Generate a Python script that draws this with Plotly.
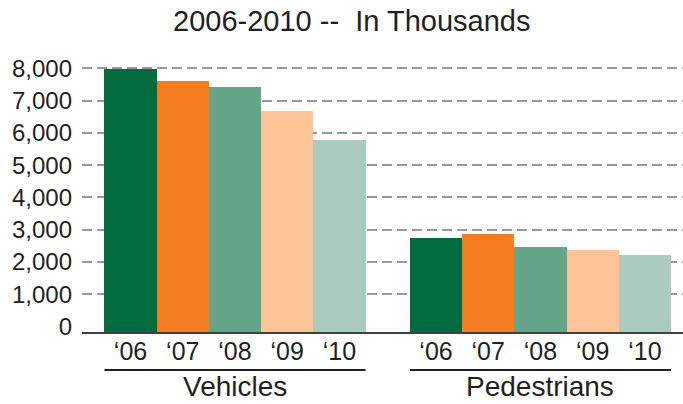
import plotly.graph_objects as go

years = ["\u201806", "\u201807", "\u201808", "\u201809", "\u201810"]
vehicles = [7980, 7610, 7420, 6680, 5790]
pedestrians = [2740, 2870, 2470, 2370, 2220]
groups = ["Vehicles", "Pedestrians"]
colors = ["#006B3F", "#F47B20", "#64A58A", "#FDC498", "#ABCBBF"]

AXIS_FLOOR = -167
GROUP_OFFSET = 5.85
TEXT = "#231F20"

veh_x = [i for i in range(len(years))]
ped_x = [GROUP_OFFSET + i for i in range(len(years))]

fig = go.Figure()
for xs, vals, name in [(veh_x, vehicles, groups[0]), (ped_x, pedestrians, groups[1])]:
    fig.add_trace(go.Bar(
        x=xs,
        y=[v - AXIS_FLOOR for v in vals],
        base=AXIS_FLOOR,
        width=1,
        marker=dict(color=colors, line=dict(width=0)),
        name=name,
        showlegend=False,
        customdata=vals,
        hovertemplate="%{customdata:,}<extra>" + name + "</extra>",
    ))

# underline + group label under each set of years
for xs, name in [(veh_x, groups[0]), (ped_x, groups[1])]:
    fig.add_shape(type="line", xref="x", yref="paper",
                  x0=xs[0] - 0.5, x1=xs[-1] + 0.5, y0=-0.139, y1=-0.139,
                  line=dict(color=TEXT, width=2))
    fig.add_annotation(x=(xs[0] + xs[-1]) / 2, xref="x", y=-0.2, yref="paper",
                       text=name, showarrow=False, yanchor="middle",
                       font=dict(family="Liberation Sans, Arial", size=28, color=TEXT))

fig.update_layout(
    width=683,
    height=404,
    margin=dict(l=82, r=0, t=58, b=72),
    title=dict(text="2006-2010 --\u00a0 In Thousands", x=0.515, xanchor="center",
               y=0.948, yanchor="middle",
               font=dict(family="Liberation Sans, Arial", size=29, color=TEXT)),
    plot_bgcolor="white",
    paper_bgcolor="white",
    bargap=0,
    xaxis=dict(
        range=[-0.93, 10.58],
        tickvals=veh_x + ped_x,
        ticktext=years + years,
        showgrid=False,
        zeroline=False,
        showline=True,
        linecolor="#404040",
        linewidth=1.5,
        ticks="",
        ticklabelstandoff=-4,
        tickfont=dict(family="Liberation Sans, Arial", size=25, color=TEXT),
    ),
    yaxis=dict(
        range=[AXIS_FLOOR, 8319],
        tickvals=[0, 1000, 2000, 3000, 4000, 5000, 6000, 7000, 8000],
        tickformat=",",
        showgrid=True,
        gridcolor="#999999",
        gridwidth=2,
        griddash="10px,5px",
        zeroline=True,
        zerolinecolor="rgba(0,0,0,0)",
        showline=False,
        ticks="",
        ticklabelstandoff=9,
        tickfont=dict(family="Liberation Sans, Arial", size=24, color=TEXT),
    ),
)

fig.write_html("out.html", config={"displayModeBar": False},
               post_script="document.body.style.margin='0';")
